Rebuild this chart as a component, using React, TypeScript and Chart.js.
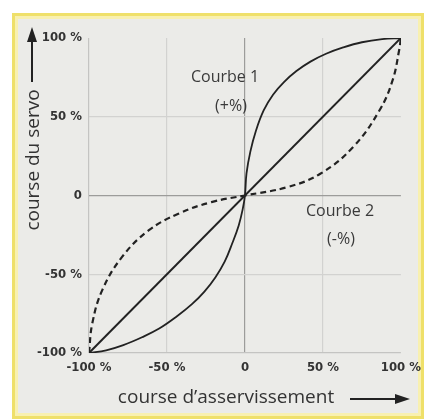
import React, { useEffect, useRef } from "react";
import { Chart, registerables } from "chart.js";

Chart.register(...registerables);

// Tick values (both axes, in %)
const tickValues = [-100, -50, 0, 50, 100];

// Courbe 1 (+%) — solid
const curve1X = [-100, -89, -78, -66, -55, -44, -34, -26, -19, -13, -8, -4, -1.5, 0, 1, 3.5, 7, 12, 18, 25, 33, 42, 52, 63, 75, 88, 100];
const curve1Y = [-100, -98.3, -95, -90, -84.5, -77, -69, -61, -52, -42, -30, -19, -9, 0, 14, 28, 41, 54, 64, 72, 79, 85, 90, 94, 97.3, 99.3, 100];

// Courbe 2 (-%) — dashed
const curve2X = [-100, -97.9, -91.5, -78.8, -61.8, -42.7, -21.5, 0, 27.2, 48.3, 69.4, 86.3, 94.7, 98.9, 100];
const curve2Y = [-100, -81.2, -60.1, -39, -22.2, -11.6, -4.2, 0, 5.3, 13.8, 30.8, 54.1, 73.2, 92.4, 100];

// Linear (diagonal)
const linearX = [-100, 100];
const linearY = [-100, 100];

const labels = {
  curve1: ["Courbe 1", "(+%)"],
  curve2: ["Courbe 2", "(-%)"],
  yTitle: "course du servo",
  xTitle: "course d\u2019asservissement",
};

const toPoints = (xs: number[], ys: number[]) => xs.map((x, i) => ({ x, y: ys[i] }));

const tickFmt = (v: number | string) => (Number(v) === 0 ? "0" : `${v} %`);

const decorPlugin = {
  id: "decor",
  beforeDraw(chart: any) {
    const ctx = chart.ctx;
    const W = chart.width;
    const H = chart.height;
    ctx.save();
    ctx.fillStyle = "#ffffff";
    ctx.fillRect(0, 0, W, H);
    // yellow frame
    ctx.fillStyle = "#efe06a";
    ctx.fillRect(12, 13, 412, 406);
    ctx.fillStyle = "#f8f0b0";
    ctx.fillRect(15, 16, 406, 400);
    ctx.fillStyle = "#ebebe8";
    ctx.fillRect(18, 19, 400, 394);
    ctx.restore();
  },
  afterDraw(chart: any) {
    const ctx = chart.ctx;
    ctx.save();
    ctx.fillStyle = "#3a3a3a";
    ctx.textAlign = "center";
    ctx.textBaseline = "middle";
    ctx.font = "16px 'Open Sans', sans-serif";
    ctx.fillText(labels.curve1[0], 225, 77);
    ctx.fillText(labels.curve1[1], 231, 106);
    ctx.fillText(labels.curve2[0], 340, 211);
    ctx.fillText(labels.curve2[1], 341, 239);

    // axis titles
    ctx.fillStyle = "#333";
    ctx.font = "19px 'Open Sans', sans-serif";
    ctx.fillText(labels.xTitle, 226, 398);
    ctx.save();
    ctx.translate(34, 160);
    ctx.rotate(-Math.PI / 2);
    ctx.fillText(labels.yTitle, 0, 0);
    ctx.restore();

    // arrows
    ctx.strokeStyle = "#222";
    ctx.fillStyle = "#222";
    ctx.lineWidth = 2;
    ctx.beginPath();
    ctx.moveTo(32, 82);
    ctx.lineTo(32, 38);
    ctx.stroke();
    ctx.beginPath();
    ctx.moveTo(32, 27);
    ctx.lineTo(27, 42);
    ctx.lineTo(37, 42);
    ctx.closePath();
    ctx.fill();

    ctx.beginPath();
    ctx.moveTo(350, 399);
    ctx.lineTo(398, 399);
    ctx.stroke();
    ctx.beginPath();
    ctx.moveTo(410, 399);
    ctx.lineTo(395, 394);
    ctx.lineTo(395, 404);
    ctx.closePath();
    ctx.fill();
    ctx.restore();
  },
};

const gridColor = (ctx: any) => {
  const v = ctx.tick ? ctx.tick.value : null;
  if (v === 0) return "#9c9c9a";
  if (v === 100) return "rgba(0,0,0,0)";
  if (v === -100) return "#c4c4c2";
  return "#d2d2d0";
};

export default function App() {
  const canvasRef = useRef<HTMLCanvasElement | null>(null);

  useEffect(() => {
    if (!canvasRef.current) return;
    const tickFont = { family: "'Liberation Sans Narrow', 'DejaVu Sans Condensed', sans-serif", size: 13, weight: "bold" as const };
    const chart = new Chart(canvasRef.current, {
      type: "scatter",
      data: {
        datasets: [
          {
            label: "linéaire",
            data: toPoints(linearX, linearY),
            showLine: true,
            borderColor: "#222",
            borderWidth: 2,
            pointRadius: 0,
          },
          {
            label: "Courbe 1",
            data: toPoints(curve1X, curve1Y),
            showLine: true,
            borderColor: "#222",
            borderWidth: 1.8,
            pointRadius: 0,
            tension: 0.4,
          },
          {
            label: "Courbe 2",
            data: toPoints(curve2X, curve2Y),
            showLine: true,
            borderColor: "#222",
            borderWidth: 2.2,
            borderDash: [6, 4],
            pointRadius: 0,
            tension: 0.4,
          },
        ],
      },
      options: {
        responsive: false,
        animation: false,
        devicePixelRatio: 1,
        layout: { padding: { top: 38, right: 23, left: 0, bottom: 0 } },
        plugins: { legend: { display: false }, tooltip: { enabled: false } },
        scales: {
          x: {
            type: "linear",
            min: -100,
            max: 100,
            afterBuildTicks: (s: any) => {
              s.ticks = tickValues.map((v) => ({ value: v }));
            },
            afterFit: (s: any) => {
              s.height = 67;
            },
            border: { display: false },
            grid: { color: gridColor, lineWidth: 1.2, drawTicks: false },
            ticks: { callback: tickFmt, font: tickFont, color: "#333", padding: 7, maxRotation: 0 },
          },
          y: {
            type: "linear",
            min: -100,
            max: 100,
            afterBuildTicks: (s: any) => {
              s.ticks = tickValues.map((v) => ({ value: v }));
            },
            afterFit: (s: any) => {
              s.width = 89;
            },
            border: { display: false },
            grid: { color: gridColor, lineWidth: 1.2, drawTicks: false },
            ticks: { callback: tickFmt, font: tickFont, color: "#333", padding: 7 },
          },
        },
      },
      plugins: [decorPlugin],
    });
    return () => chart.destroy();
  }, []);

  return (
    <div style={{ position: "absolute", left: 0, top: 0, width: 428, height: 420 }}>
      <canvas ref={canvasRef} width={428} height={420} style={{ width: 428, height: 420 }} />
    </div>
  );
}
